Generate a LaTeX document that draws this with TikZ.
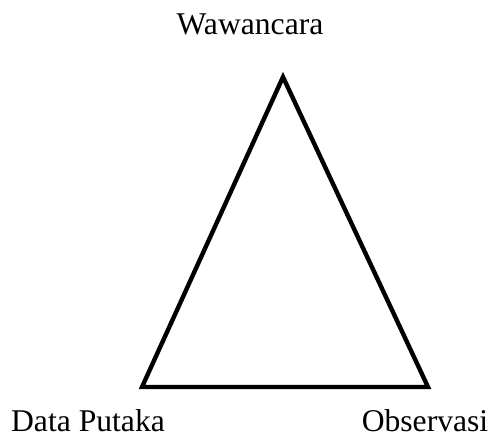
\documentclass[tikz,border=0pt]{standalone}
\usepackage{fontspec}
\setmainfont{Liberation Serif}
\begin{document}
\begin{tikzpicture}[label/.style={font=\fontsize{18}{22}\selectfont, anchor=base, inner sep=0pt}]
    \useasboundingbox (0,0) rectangle (9.82,8.74);
    % 三角形顶点
    \coordinate (wawancara) at (5.66,7.20);
    \coordinate (putaka) at (2.84,1.00);
    \coordinate (observasi) at (8.56,1.00);

    % 绘制三角形
    \draw[line width=2.5pt] (wawancara) -- (putaka) -- (observasi) -- cycle;

    % 标注
    \node[label] (wlabel) at (5.00,8.04) {Wawancara};
    \node[label] (plabel) at (1.76,0.12) {Data Putaka};
    \node[label] (olabel) at (8.50,0.12) {Observasi};
\end{tikzpicture}
\end{document}
